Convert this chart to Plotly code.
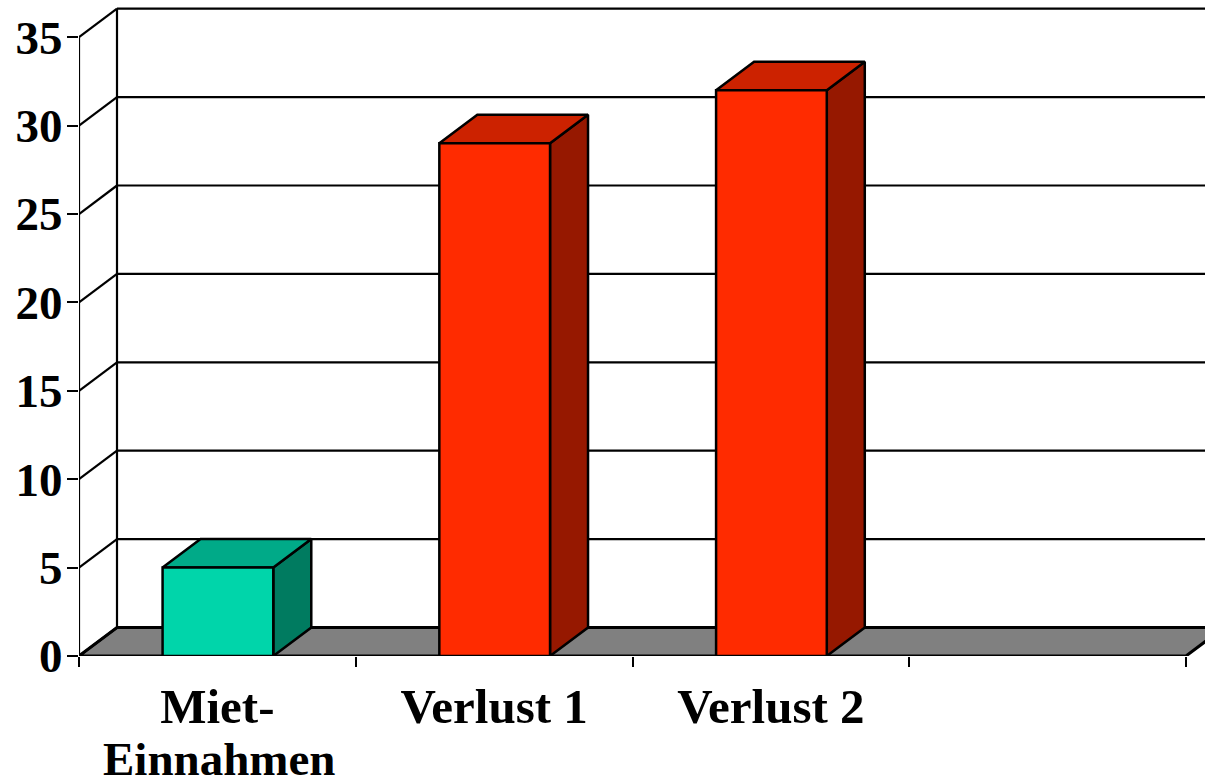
import plotly.graph_objects as go

categories = ["Miet-", "Verlust 1", "Verlust 2", ""]
second_line = "Einnahmen"
values = [5, 29, 32]
front_colors = ["#00D5AA", "#FF2B00", "#FF2B00"]
top_colors = ["#00AA88", "#CC2200", "#CC2200"]
side_colors = ["#007B60", "#961800", "#961800"]
y_ticks = [0, 5, 10, 15, 20, 25, 30, 35]
x_edges = [0, 1, 2, 3, 4]

DX = 38 / 276.75
DY = 28.5 / 17.68
BAR_W = 0.4
FONT = "Liberation Serif"
TEXT = dict(family=FONT, size=47, color="black", weight=700)
XTEXT = dict(family=FONT, size=49, color="black", weight=700)

fig = go.Figure()


def poly(xs, ys, fill, width=2.5):
    fig.add_trace(go.Scatter(x=xs, y=ys, mode="lines", fill="toself", fillcolor=fill,
                             line=dict(color="black", width=width), hoverinfo="skip",
                             showlegend=False, cliponaxis=False))


def line(xs, ys, width=2.2):
    fig.add_trace(go.Scatter(x=xs, y=ys, mode="lines",
                             line=dict(color="black", width=width), hoverinfo="skip",
                             showlegend=False, cliponaxis=False))


top = y_ticks[-1]
right = x_edges[-1]
# floor
poly([0, right, right + DX, DX, 0], [0, 0, DY, DY, 0], "#808080", 3)
# back wall gridlines and the diagonals joining them to the front axis
for t in y_ticks:
    if t > 0:
        line([DX, right + DX], [t + DY, t + DY])
    line([0, DX], [t, t + DY])
line([DX, DX], [DY, top + DY])
line([0, 0], [0, top])

# bars
for i, v in enumerate(values):
    x0 = i + 0.502 - BAR_W / 2
    x1 = x0 + BAR_W
    poly([x1, x1 + DX, x1 + DX, x1, x1], [0, DY, v + DY, v, 0], side_colors[i])
    poly([x0, x1, x1 + DX, x0 + DX, x0], [v, v, v + DY, v + DY, v], top_colors[i])
    poly([x0, x1, x1, x0, x0], [0, 0, v, v, 0], front_colors[i])

fig.add_annotation(x=0.505, y=-103 / 656, xref="x", yref="paper", text=second_line, showarrow=False,
                   font=TEXT, xanchor="center", yanchor="middle")

fig.update_layout(
    width=1205, height=781, margin=dict(l=79, r=0, t=0, b=125),
    paper_bgcolor="white", plot_bgcolor="white", showlegend=False,
    xaxis=dict(range=[0, 1126 / 276.75], showgrid=False, zeroline=False, showline=False,
               tickmode="array", tickvals=[i + 0.5 for i in range(len(categories))],
               ticktext=categories, ticks="", tickfont=XTEXT, ticklabelstandoff=17,
               minor=dict(tickmode="array", tickvals=x_edges, ticks="outside", ticklen=10,
                          tickwidth=2, tickcolor="black", showgrid=False)),
    yaxis=dict(range=[0, 656 / 17.68], showgrid=False, zeroline=False, showline=False,
               tickmode="array", tickvals=y_ticks, ticks="outside", ticklen=11,
               tickwidth=2, tickcolor="black", tickfont=TEXT, ticklabelstandoff=-5),
)

fig.write_html("out.html", config=dict(displayModeBar=False),
               post_script="document.body.style.margin='0';")
